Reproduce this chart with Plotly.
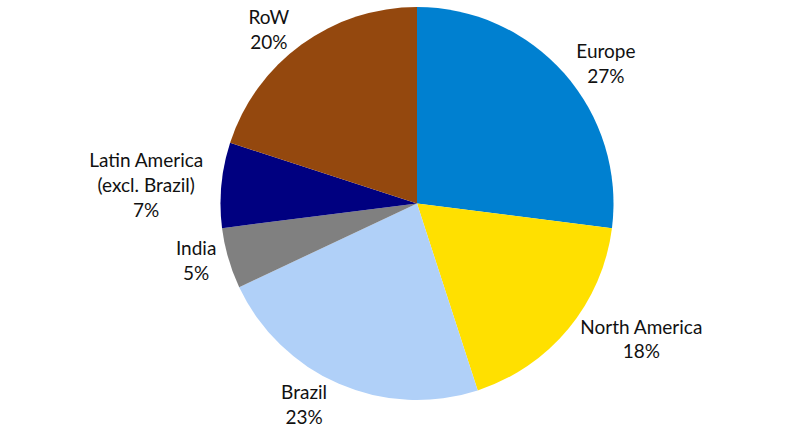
import plotly.graph_objects as go

regions = ["Europe", "North America", "Brazil", "India", "Latin America<br>(excl. Brazil)", "RoW"]
shares = [27, 18, 23, 5, 7, 20]
colors = ["#0080D0", "#FFE000", "#B0D0F8", "#808080", "#000080", "#94480E"]

fig = go.Figure(go.Pie(
    labels=regions,
    values=shares,
    sort=False,
    direction="clockwise",
    rotation=0,
    marker=dict(colors=colors, line=dict(width=0)),
    texttemplate="%{label}<br>%{percent:.0%}",
    textposition="outside",
    textfont=dict(family="Lato", size=19, color="#111111"),
    showlegend=False,
    domain=dict(x=[0.0, 1.0], y=[0.0, 1.0]),
    hoverinfo="label+percent",
))

fig.update_layout(
    width=792, height=433,
    margin=dict(l=0, r=0, t=2, b=2),
    paper_bgcolor="white",
    plot_bgcolor="white",
    font=dict(family="Lato", size=19),
)

fig.write_html("out.html")
